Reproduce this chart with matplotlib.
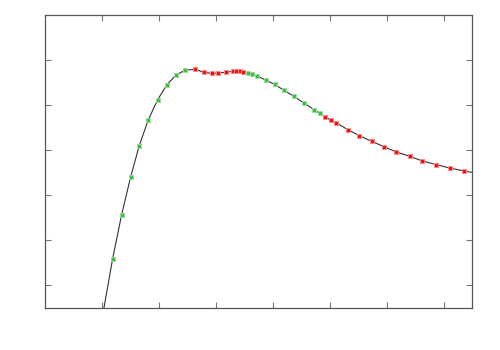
import numpy as np
import matplotlib
matplotlib.use('Agg')
import matplotlib.pyplot as plt

# green segments (tick units)
green1_x = [1.188, 1.346, 1.504, 1.654, 1.812, 1.977, 2.140, 2.298, 2.465]
green1_y = [0.593, 1.571, 2.407, 3.096, 3.667, 4.118, 4.451, 4.667, 4.778]
red1_x = [2.632, 2.789, 2.925, 3.047, 3.175, 3.304, 3.363, 3.421, 3.479]
red1_y = [4.793, 4.733, 4.704, 4.718, 4.727, 4.756, 4.756, 4.756, 4.740]
green2_x = [3.567, 3.644, 3.725, 3.877, 4.035, 4.193, 4.368, 4.544, 4.725, 4.825]
green2_y = [4.718, 4.682, 4.651, 4.556, 4.460, 4.333, 4.200, 4.051, 3.904, 3.816]
red2_x = [4.925, 5.018, 5.118, 5.316, 5.514, 5.737, 5.947, 6.170, 6.404,
          6.626, 6.872, 7.105, 7.356]
red2_y = [3.740, 3.667, 3.607, 3.460, 3.327, 3.200, 3.082, 2.962, 2.867,
          2.762, 2.682, 2.607, 2.540]

# ends of the fitted curve
curve_start = (1.035, -0.5)
curve_end = (7.5, 2.51)

fig = plt.figure(figsize=(5, 3.5), dpi=100)
ax = fig.add_axes([0.09, 0.12, 0.854, 0.837])

cx = [curve_start[0]] + green1_x + red1_x + green2_x + red2_x + [curve_end[0]]
cy = [curve_start[1]] + green1_y + red1_y + green2_y + red2_y + [curve_end[1]]
ax.plot(cx, cy, color='#333333', lw=0.8, zorder=2)

mk = dict(marker='s', ms=3.0, ls='none', mew=0.7, zorder=3)
for xs, ys in [(green1_x, green1_y), (green2_x, green2_y)]:
    ax.plot(xs, ys, color='#44bb44', mec='#99dd99', **mk)
for xs, ys in [(red1_x, red1_y), (red2_x, red2_y)]:
    ax.plot(xs, ys, color='#ee1111', mec='#ff8888', **mk)

ax.set_xlim(0, 7.5)
ax.set_ylim(-0.5, 6)
ax.set_xticks(range(1, 8))
ax.set_yticks(range(0, 6))
ax.tick_params(direction='in', length=4, width=0.8, color='#777777',
               top=True, right=True, labelbottom=False, labelleft=False)
for s in ax.spines.values():
    s.set_color('#555555')
    s.set_linewidth(0.9)

fig.savefig('out.png', dpi=100)
